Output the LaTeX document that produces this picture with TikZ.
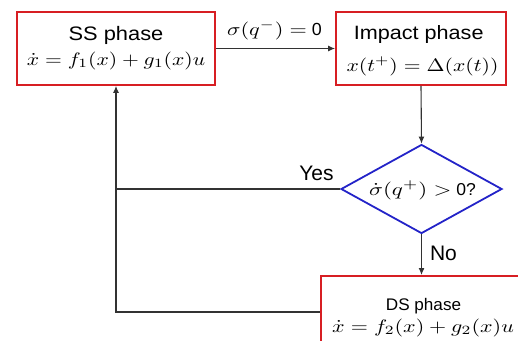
\documentclass[tikz,border=0pt]{standalone}
\usepackage{graphicx}
\usepackage[no-math]{fontspec}
\setmainfont{Liberation Sans}
\usetikzlibrary{shapes.geometric,arrows.meta}
\definecolor{boxred}{RGB}{215,30,35}
\definecolor{boxblue}{RGB}{35,35,200}
\definecolor{linegray}{RGB}{50,50,50}
\newcommand\mathbox[3]{\scalebox{#1}[#2]{\fontsize{10}{12}\selectfont$#3$}}
\newcommand\txtbox[3]{\scalebox{#2}[1]{\fontsize{#1}{#1}\selectfont #3}}
\tikzset{
  phasebox/.style={draw=boxred, line width=1.8pt, inner sep=0pt},
  decbox/.style={diamond, draw=boxblue, line width=1.8pt, aspect=1.8, inner sep=0pt, minimum width=161pt, minimum height=89pt},
  conn/.style={draw=linegray, line width=1.1pt},
  arr/.style={conn, -{Latex[length=7pt,width=6pt]}},
  txt/.style={inner sep=0pt, anchor=base}
}
\begin{document}
\begin{tikzpicture}[x=1pt,y=-1pt]
\useasboundingbox (0,0) rectangle (518,340);
\clip (0,0) rectangle (518,340);
% boxes
\node[phasebox, minimum width=198pt, minimum height=73pt] (ss) at (116,48.5) {};
\node[phasebox, minimum width=170pt, minimum height=73pt] (imp) at (421,48.5) {};
\node[decbox] (dec) at (421.5,189) {};
\node[phasebox, minimum width=205pt, minimum height=80pt, anchor=north west] (ds) at (320,275) {};
% texts
\node[txt] (sst) at (116,40) {\txtbox{19.5}{1.12}{SS phase}};
\node[txt] (sse) at (116,65) {\mathbox{2.16}{1.8}{\dot{x} = f_1(x) + g_1(x)u}};
\node[txt] (impt) at (418.7,39) {\txtbox{19.3}{1.12}{Impact phase}};
\node[txt] (impe) at (422.5,71) {\mathbox{2.16}{1.8}{x(t^{+}) = \Delta(x(t))}};
\node[txt] (dect) at (422.5,195.5) {\mathbox{2.3}{1.8}{\dot{\sigma}(q^{+}) >}\txtbox{17.2}{1.02}{\ 0?}};
\node[txt] (dst) at (423.5,310) {\txtbox{16.8}{1.02}{DS phase}};
\node[txt] (dse) at (423,332) {\mathbox{2.2}{1.8}{\dot{x} = f_2(x) + g_2(x)u}};
\node[txt] (lab) at (274.5,35) {\mathbox{2.22}{1.8}{\sigma(q^{-}) =}\txtbox{17.5}{1.02}{\ 0}};
\node[txt] (yes) at (316.5,180) {\txtbox{21}{1}{Yes}};
\node[txt] (no) at (443.5,260) {\txtbox{21}{1}{No}};
% connectors
\coordinate (c1) at (116,189);
\coordinate (c2) at (116,312);
\coordinate (dsl) at (320,312);
\draw[arr] (ss.east) -- (imp.west);
\draw[arr] (imp.south) -- (dec.north);
\draw[arr] (dec.south) -- (ds.north -| dec.south);
\draw[conn] (dec.west) -- (c1);
\draw[arr] (dsl) -- (c2) -- (ss.south);
\end{tikzpicture}
\end{document}
